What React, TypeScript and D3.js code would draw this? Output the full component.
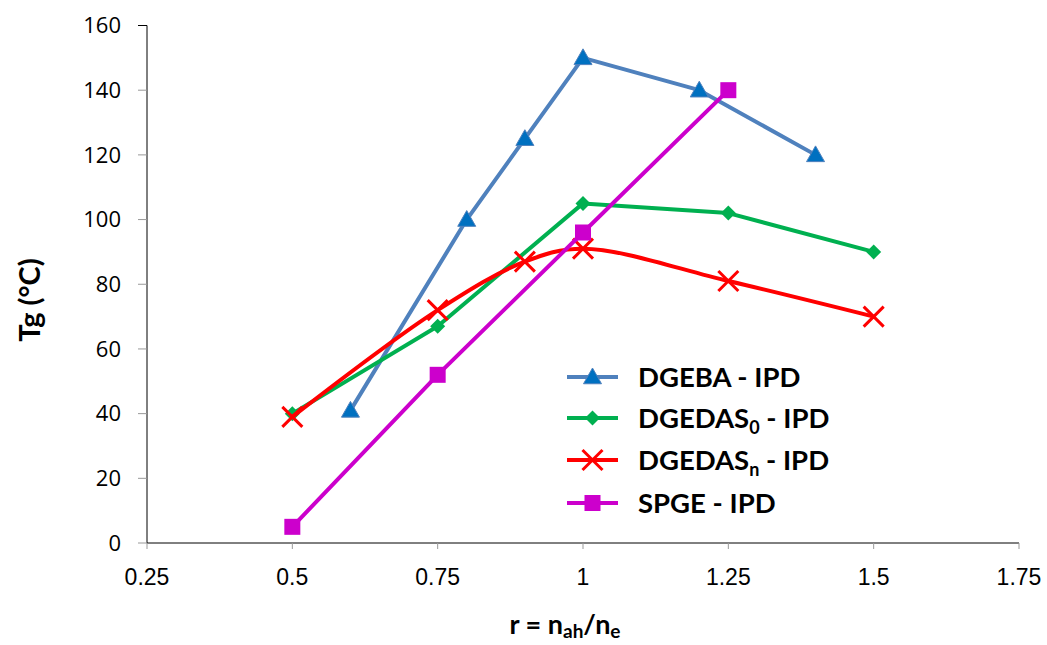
import React from "react";
import * as d3 from "d3";

const xTicks = [0.25, 0.5, 0.75, 1, 1.25, 1.5, 1.75];
const yTicks = [0, 20, 40, 60, 80, 100, 120, 140, 160];

const dgebaX = [0.6, 0.8, 0.9, 1, 1.2, 1.4];
const dgebaY = [41, 100, 125, 150, 140, 120];
const dgedas0X = [0.5, 0.75, 1, 1.25, 1.5];
const dgedas0Y = [40, 67, 105, 102, 90];
const dgedasnX = [0.5, 0.75, 0.9, 1, 1.25, 1.5];
const dgedasnY = [39, 72, 87, 91, 81, 70];
const spgeX = [0.5, 0.75, 1, 1.25];
const spgeY = [5, 52, 96, 140];

const W = 1047, H = 645;
const x = d3.scaleLinear().domain([0.25, 1.75]).range([147, 1019]);
const y = d3.scaleLinear().domain([0, 160]).range([543, 25.5]);

type Pt = [number, number];
const zip = (a: number[], b: number[]): Pt[] => a.map((v, i) => [v, b[i]]);

const lineStraight = d3.line<Pt>().x(d => x(d[0])).y(d => y(d[1]));
const lineSmooth = d3.line<Pt>().x(d => x(d[0])).y(d => y(d[1])).curve(d3.curveCatmullRom.alpha(0.5));

function Marker({ kind, cx, cy, color }: { kind: string; cx: number; cy: number; color: string }) {
  if (kind === "tri") {
    const s = 9;
    return <path d={`M${cx},${cy - s} L${cx + s},${cy + s * 0.75} L${cx - s},${cy + s * 0.75} Z`} fill={color} stroke="#4F81BD" strokeWidth={1} />;
  }
  if (kind === "dia") {
    const s = 7.5;
    return <path d={`M${cx},${cy - s} L${cx + s},${cy} L${cx},${cy + s} L${cx - s},${cy} Z`} fill={color} />;
  }
  if (kind === "x") {
    const s = 10;
    return <path d={`M${cx - s},${cy - s} L${cx + s},${cy + s} M${cx - s},${cy + s} L${cx + s},${cy - s}`} stroke={color} strokeWidth={3} />;
  }
  const s = 8;
  return <rect x={cx - s} y={cy - s} width={2 * s} height={2 * s} fill={color} />;
}

const series = [
  { name: "DGEBA", sub: "", pts: zip(dgebaX, dgebaY), line: "#4F81BD", mark: "#0070C0", kind: "tri", smooth: false },
  { name: "DGEDAS", sub: "0", pts: zip(dgedas0X, dgedas0Y), line: "#00B050", mark: "#00B050", kind: "dia", smooth: false },
  { name: "DGEDAS", sub: "n", pts: zip(dgedasnX, dgedasnY), line: "#FF0000", mark: "#FF0000", kind: "x", smooth: true },
  { name: "SPGE", sub: "", pts: zip(spgeX, spgeY), line: "#CC00CC", mark: "#CC00CC", kind: "sq", smooth: false },
];

const legendY = [377, 418, 460, 503];

export default function App() {
  return (
    <svg width={W} height={H} style={{ position: "absolute", left: 0, top: 0, background: "#fff" }}>
      {/* axes */}
      <line x1={147} x2={147} y1={25.5} y2={543} stroke="#000" strokeWidth={1} />
      <line x1={147} x2={1019} y1={543} y2={543} stroke="#000" strokeWidth={1} />
      {yTicks.map(t => (
        <g key={"y" + t}>
          <line x1={138} x2={147} y1={y(t)} y2={y(t)} stroke={t === 160 ? "#000" : "#999"} strokeWidth={1} />
          <text x={121} y={y(t)} dy="0.35em" textAnchor="end" fontFamily="'Open Sans', Lato, sans-serif" fontSize={22} fill="#000">{t}</text>
        </g>
      ))}
      {xTicks.map(t => (
        <g key={"x" + t}>
          <line x1={x(t)} x2={x(t)} y1={543} y2={549} stroke="#999" strokeWidth={1} />
          <text x={x(t)} y={585} textAnchor="middle" fontFamily="'Liberation Sans Narrow', 'Arial Narrow', 'Liberation Sans', sans-serif" fontSize={23} fill="#000">{d3.format("")(t)}</text>
        </g>
      ))}
      <text x={565} y={634} textAnchor="middle" fontFamily="Lato, 'Open Sans', sans-serif" fontWeight="bold" fontSize={27} fill="#000">
        r = n<tspan fontSize={19} dy={4}>ah</tspan><tspan dy={-4}>/n</tspan><tspan fontSize={19} dy={4}>e</tspan>
      </text>
      <text transform="translate(40,300) rotate(-90)" textAnchor="middle" fontFamily="Lato, 'Open Sans', sans-serif" fontWeight="bold" fontSize={29} fill="#000">Tg (°C)</text>

      {/* series */}
      {series.map((s, i) => (
        <g key={"s" + i}>
          <path d={(s.smooth ? lineSmooth : lineStraight)(s.pts) || ""} fill="none" stroke={s.line} strokeWidth={4} strokeLinejoin="round" />
          {s.pts.map((p, j) => <Marker key={j} kind={s.kind} cx={x(p[0])} cy={y(p[1])} color={s.mark} />)}
        </g>
      ))}

      {/* legend */}
      {series.map((s, i) => (
        <g key={"l" + i}>
          <line x1={567} x2={618} y1={legendY[i]} y2={legendY[i]} stroke={s.line} strokeWidth={4} />
          <Marker kind={s.kind} cx={592.5} cy={legendY[i]} color={s.mark} />
          <text x={638} y={legendY[i] + 10} fontFamily="Lato, 'Open Sans', sans-serif" fontWeight="bold" fontSize={27.5} fill="#000">
            {s.name}
            {s.sub ? <tspan fontSize={18} dy={6}>{s.sub}</tspan> : null}
            {s.sub ? <tspan dy={-6}> - IPD</tspan> : " - IPD"}
          </text>
        </g>
      ))}
    </svg>
  );
}
